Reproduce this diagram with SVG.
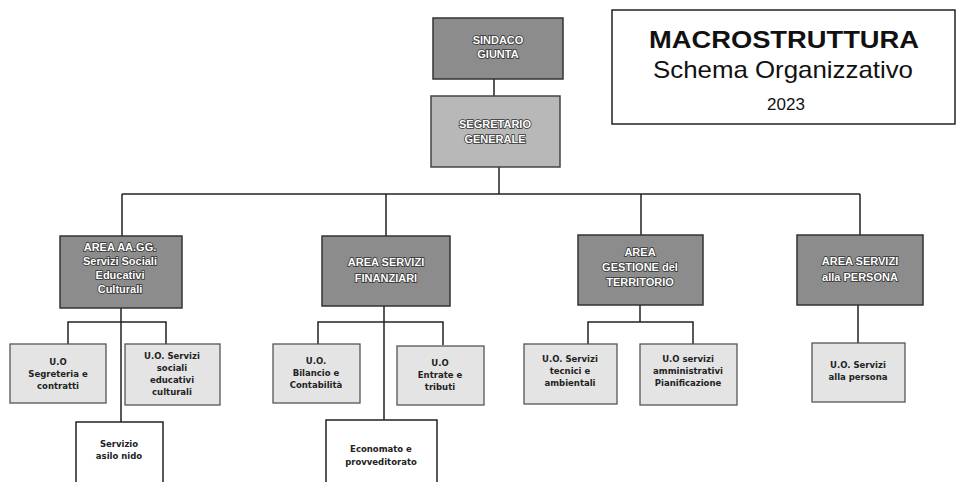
<svg xmlns="http://www.w3.org/2000/svg" width="958" height="482" viewBox="0 0 958 482">
<style>
.dk{fill:#8c8c8c;stroke:#333;stroke-width:1.5}
.md{fill:#b8b8b8;stroke:#444;stroke-width:1.5}
.lt{fill:#e4e4e4;stroke:#555;stroke-width:1.3}
.wh{fill:#ffffff;stroke:#222;stroke-width:1.5}
.tw{font-family:"Liberation Sans",Arial,sans-serif;font-size:11px;fill:#fff;stroke:#333;stroke-width:1.6;paint-order:stroke;text-anchor:middle;font-weight:bold}
.ts{font-family:"DejaVu Sans",sans-serif;font-size:8.5px;fill:#222;text-anchor:middle;font-weight:bold}
.tt{font-family:"Liberation Sans",Arial,sans-serif;fill:#111;text-anchor:middle}
#conn path{fill:none;stroke:#222;stroke-width:1.5}
</style>
<rect width="958" height="482" fill="#fff"/>
<g id="conn">
<path d="M494 79V96"/>
<path d="M499 167V194"/>
<path d="M122 194H860"/>
<path d="M122 194V236M386 194V236M641 194V235M860 194V235"/>
<path d="M121 308V422M68 345V322H166V345"/>
<path d="M384 306V420M318 345V322H443V345"/>
<path d="M640 305V322M588 345V322H693V345"/>
<path d="M858 305V343"/>
</g>
<g id="title">
<rect x="612" y="10" width="343" height="114" fill="#fff" stroke="#222" stroke-width="1.5"/>
<text class="tt" x="784" y="48" font-size="24" font-weight="bold" textLength="270" lengthAdjust="spacingAndGlyphs">MACROSTRUTTURA</text>
<text class="tt" x="783" y="78" font-size="24" textLength="260" lengthAdjust="spacingAndGlyphs">Schema Organizzativo</text>
<text class="tt" x="786" y="110" font-size="17">2023</text>
</g>
<g id="sindaco">
<rect class="dk" x="433" y="18" width="130" height="61"/>
<text class="tw" x="498" y="44">SINDACO</text>
<text class="tw" x="498" y="58">GIUNTA</text>
</g>
<g id="segretario">
<rect class="md" x="431" y="96" width="129" height="71"/>
<text class="tw" x="495" y="128">SEGRETARIO</text>
<text class="tw" x="495" y="143">GENERALE</text>
</g>
<g id="area-aagg">
<rect class="dk" x="60" y="236" width="122" height="72"/>
<text class="tw" x="120" y="251">AREA AA.GG.</text>
<text class="tw" x="120" y="265">Servizi Sociali</text>
<text class="tw" x="120" y="279">Educativi</text>
<text class="tw" x="120" y="293">Culturali</text>
</g>
<g id="area-fin">
<rect class="dk" x="322" y="236" width="128" height="70"/>
<text class="tw" x="386" y="266">AREA SERVIZI</text>
<text class="tw" x="386" y="282">FINANZIARI</text>
</g>
<g id="area-terr">
<rect class="dk" x="578" y="235" width="125" height="70"/>
<text class="tw" x="640" y="256">AREA</text>
<text class="tw" x="640" y="271">GESTIONE del</text>
<text class="tw" x="640" y="286">TERRITORIO</text>
</g>
<g id="area-pers">
<rect class="dk" x="797" y="235" width="126" height="70"/>
<text class="tw" x="860" y="265">AREA SERVIZI</text>
<text class="tw" x="860" y="281">alla PERSONA</text>
</g>
<g id="uo-segreteria">
<rect class="lt" x="10" y="344" width="96" height="59"/>
<text class="ts" x="58" y="365">U.O</text>
<text class="ts" x="58" y="377">Segreteria e</text>
<text class="ts" x="58" y="389">contratti</text>
</g>
<g id="uo-sociali">
<rect class="lt" x="125" y="344" width="95" height="61"/>
<text class="ts" x="172" y="359">U.O. Servizi</text>
<text class="ts" x="172" y="371">sociali</text>
<text class="ts" x="172" y="383">educativi</text>
<text class="ts" x="172" y="395">culturali</text>
</g>
<g id="asilo">
<rect class="wh" x="76" y="422" width="87" height="70"/>
<text class="ts" x="119" y="447">Servizio</text>
<text class="ts" x="119" y="459">asilo nido</text>
</g>
<g id="uo-bilancio">
<rect class="lt" x="273" y="344" width="87" height="59"/>
<text class="ts" x="316" y="364">U.O.</text>
<text class="ts" x="316" y="376">Bilancio e</text>
<text class="ts" x="316" y="388">Contabilità</text>
</g>
<g id="uo-entrate">
<rect class="lt" x="397" y="346" width="87" height="59"/>
<text class="ts" x="440" y="366">U.O</text>
<text class="ts" x="440" y="378">Entrate e</text>
<text class="ts" x="440" y="390">tributi</text>
</g>
<g id="economato">
<rect class="wh" x="326" y="420" width="111" height="72"/>
<text class="ts" x="381" y="452">Economato e</text>
<text class="ts" x="381" y="465">provveditorato</text>
</g>
<g id="uo-tecnici">
<rect class="lt" x="524" y="344" width="93" height="60"/>
<text class="ts" x="570" y="362">U.O. Servizi</text>
<text class="ts" x="570" y="374">tecnici e</text>
<text class="ts" x="570" y="386">ambientali</text>
</g>
<g id="uo-amm">
<rect class="lt" x="640" y="344" width="97" height="61"/>
<text class="ts" x="688" y="362">U.O servizi</text>
<text class="ts" x="688" y="374">amministrativi</text>
<text class="ts" x="688" y="386">Pianificazione</text>
</g>
<g id="uo-persona">
<rect class="lt" x="812" y="343" width="93" height="59"/>
<text class="ts" x="858" y="368">U.O. Servizi</text>
<text class="ts" x="858" y="380">alla persona</text>
</g>
</svg>
